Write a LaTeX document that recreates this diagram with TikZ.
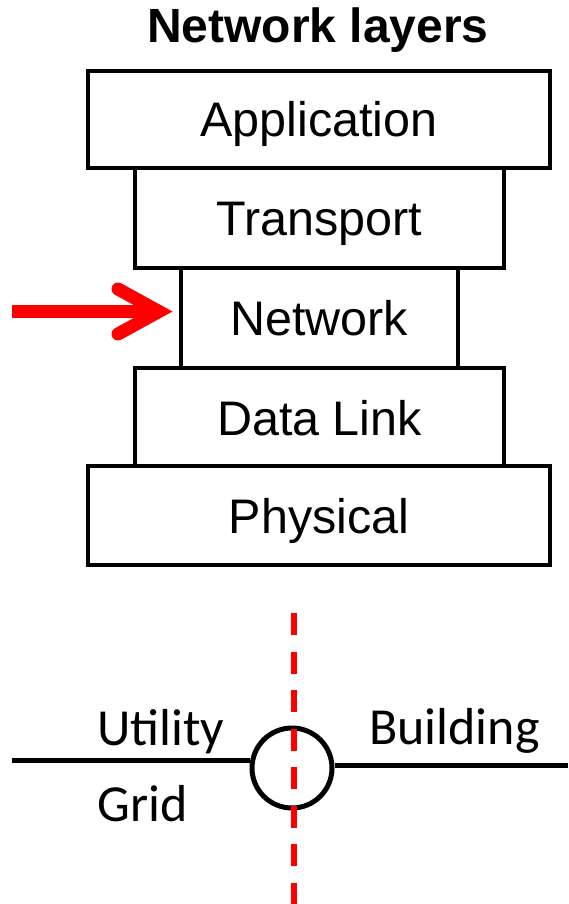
\documentclass[tikz,border=0pt]{standalone}
\usepackage{fontspec}
\setmainfont{Liberation Sans}
\newfontfamily\calib{Carlito}
\begin{document}
\begin{tikzpicture}[x=1pt,y=-1pt,
  layer/.style={draw=black, line width=4pt, fill=white, inner sep=0pt,
    text height=35pt, text depth=0pt, font=\fontsize{48.5}{50}\selectfont},
  lbl/.style={inner sep=0pt, anchor=base west, font=\calib\fontsize{52}{54}\selectfont},
  redline/.style={draw=red, line width=13pt},
  wire/.style={draw=black, line width=5pt},
]
\useasboundingbox (0,0) rectangle (568,904);

\node[inner sep=0pt, anchor=base, font=\bfseries\fontsize{48}{50}\selectfont] (title) at (318,43) {Network layers};

\node[layer, minimum width=462pt, minimum height=97pt] (app) at (319,119.5) {Application};
\node[layer, minimum width=369pt, minimum height=99pt] (trans) at (319.5,218) {Transport};
\node[layer, minimum width=277pt, minimum height=100pt] (net) at (319,318) {Network};
\node[layer, minimum width=369pt, minimum height=99pt] (dl) at (319.5,417.5) {Data Link};
\node[layer, minimum width=462pt, minimum height=99pt] (phys) at (319,515.5) {Physical};

% red arrow
\coordinate (atail) at (12,311.5);
\coordinate (avert) at (159,311.5);
\draw[redline, line cap=butt] (atail) -- (avert);
\draw[redline, line cap=round, line join=miter] (118,289) -- (avert) -- (118,334);

% junction
\node[draw=black, line width=5pt, circle, minimum size=80pt, inner sep=0pt] (jn) at (292,768) {};
\coordinate (gridL) at (12,760.5);
\coordinate (bldR) at (568,765.5);
\draw[wire] (gridL) -- (gridL -| jn.west);
\draw[wire] (bldR) -- (bldR -| jn.east);

% boundary
\coordinate (btop) at (294,613);
\coordinate (bbot) at (294,904);
\draw[draw=red, line width=5.5pt, dash pattern=on 22pt off 16.5pt] (btop) -- (bbot);

\node[lbl] (util) at (97,745) {Utility};
\node[lbl] (grid) at (97,821) {Grid};
\node[lbl] (bld) at (369,744) {Building};
\end{tikzpicture}
\end{document}
